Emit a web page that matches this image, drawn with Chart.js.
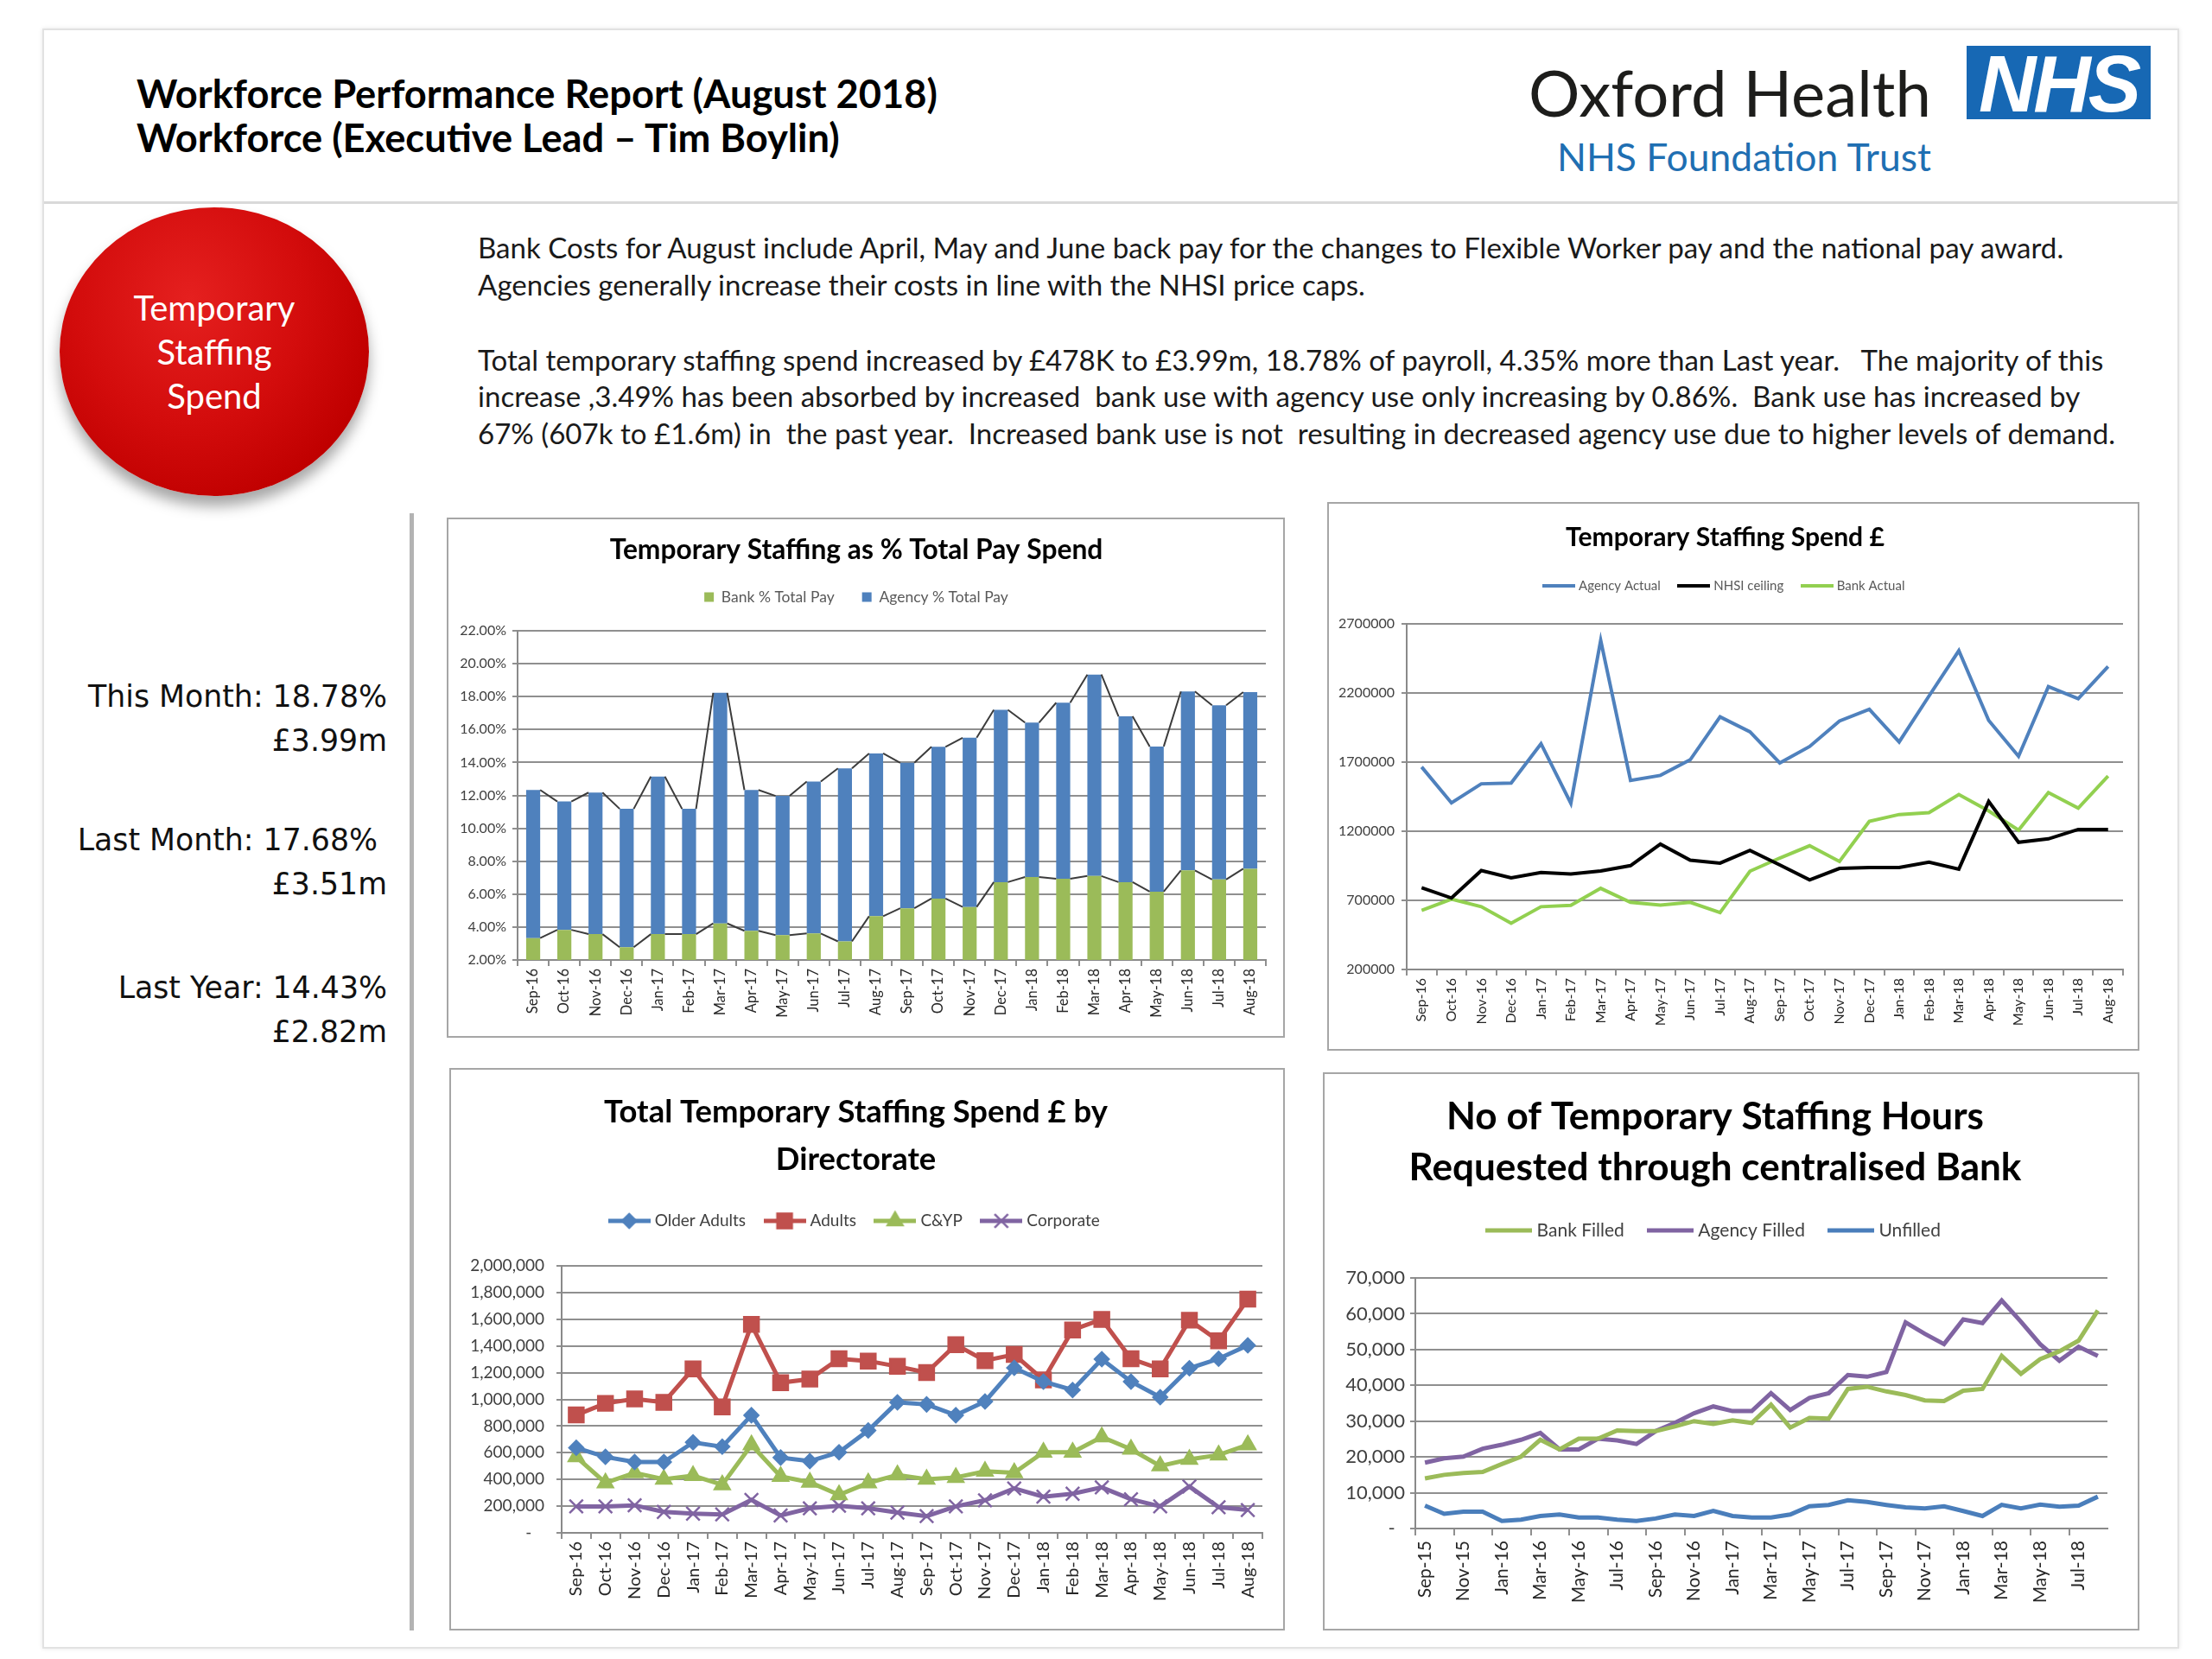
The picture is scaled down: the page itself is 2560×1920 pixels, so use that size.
<!DOCTYPE html>
<html lang="en">
<head>
<meta charset="utf-8">
<title>Workforce Performance Report (August 2018)</title>
<script src="https://cdn.jsdelivr.net/npm/chart.js@4.4.1/dist/chart.umd.min.js"></script>
<style>
  html, body { margin: 0; padding: 0; background: #fff; }
  body { position: relative; width: 2560px; height: 1920px; overflow: hidden; font-family: Lato, "Open Sans", sans-serif; color: #1a1a1a; }
  .t { position: absolute; white-space: pre; line-height: 1.2; }
  #page { position: absolute; left: 49px; top: 33px; width: 2473px; height: 1875px; border: 2px solid #e2e2e2; box-sizing: border-box; box-shadow: 0 0 5px rgba(0,0,0,0.10); }
  #rule { position: absolute; left: 51px; top: 233px; width: 2469px; height: 3px; background: #d9d9d9; }
  #vbar { position: absolute; left: 474px; top: 594px; width: 5px; height: 1293px; background: #b3b3b3; }
  #nhs { position: absolute; left: 2276px; top: 53px; width: 213px; height: 85px; background: #1768b4; color: #fff; font: italic bold 92px "Liberation Sans", Arial, sans-serif; line-height: 88px; text-align: center; letter-spacing: -3px; overflow: hidden; }
  #circle { position: absolute; left: 69px; top: 240px; width: 358px; height: 334px; border-radius: 50%;
    background: radial-gradient(ellipse at 42% 32%, #e5201f 0%, #d30c0c 45%, #c00000 75%, #9a0000 100%);
    box-shadow: 0 12px 16px rgba(0,0,0,0.35); color: #fff; display: flex; flex-direction: column; align-items: center; justify-content: center; }
  #circle div { line-height: 51px; font-size: 39px; white-space: pre; }
  .stat { position: absolute; right: 2112px; font-family: "DejaVu Sans", sans-serif; font-size: 31px; line-height: 1.2; white-space: pre; color: #111; }
  .box { position: absolute; outline: 2px solid #a6a6a6; outline-offset: -2px; background: #fff; }
</style>
</head>
<body>
<div id="page"></div>
<div id="rule"></div>

<div class="t" style="left:158px; font-weight:700; font-size:40px; color:#000" data-cy="108" data-w="927" data-group="head">Workforce Performance Report (August 2018)</div>
<div class="t" style="left:158px; font-weight:700; font-size:40px; color:#000" data-cy="159" data-group="head">Workforce (Executive Lead – Tim Boylin)</div>

<div class="t" style="left:1769px; font-size:68px; color:#1d1d1b" data-cy="107" data-w="466">Oxford Health</div>
<div id="nhs">NHS</div>
<div class="t" style="left:1802px; font-size:42px; color:#1f6fb2" data-cy="181" data-w="433">NHS Foundation Trust</div>

<div id="circle">
  <div data-w="187" data-group="circ">Temporary</div>
  <div data-group="circ">Staffing</div>
  <div data-group="circ">Spend</div>
</div>

<div class="t" style="left:553px; font-size:30px" data-cy="287" data-w="1836" data-group="para">Bank Costs for August include April, May and June back pay for the changes to Flexible Worker pay and the national pay award.</div>
<div class="t" style="left:553px; font-size:30px" data-cy="330" data-group="para">Agencies generally increase their costs in line with the NHSI price caps.</div>
<div class="t" style="left:553px; font-size:30px" data-cy="417" data-group="para">Total temporary staffing spend increased by £478K to £3.99m, 18.78% of payroll, 4.35% more than Last year.   The majority of this</div>
<div class="t" style="left:553px; font-size:30px" data-cy="459" data-group="para">increase ,3.49% has been absorbed by increased  bank use with agency use only increasing by 0.86%.  Bank use has increased by</div>
<div class="t" style="left:553px; font-size:30px" data-cy="502" data-group="para">67% (607k to £1.6m) in  the past year.  Increased bank use is not  resulting in decreased agency use due to higher levels of demand.</div>

<div class="stat" data-cy="807" data-w="346" data-group="stat">This Month: 18.78%</div>
<div class="stat" data-cy="858" data-group="stat">£3.99m</div>
<div class="stat" data-cy="973" data-group="stat">Last Month: 17.68% </div>
<div class="stat" data-cy="1024" data-group="stat">£3.51m</div>
<div class="stat" data-cy="1144" data-group="stat">Last Year: 14.43%</div>
<div class="stat" data-cy="1195" data-group="stat">£2.82m</div>

<div id="vbar"></div>

<div class="box" style="left:517px; top:599px; width:970px; height:602px"><canvas id="payPctChart"></canvas></div>
<div class="box" style="left:1536px; top:581px; width:940px; height:635px"><canvas id="spendChart"></canvas></div>
<div class="box" style="left:520px; top:1236px; width:967px; height:651px"><canvas id="directorateChart"></canvas></div>
<div class="box" style="left:1531px; top:1241px; width:945px; height:646px"><canvas id="hoursChart"></canvas></div>

<script>
// categories
const months = ['Sep-16', 'Oct-16', 'Nov-16', 'Dec-16', 'Jan-17', 'Feb-17', 'Mar-17', 'Apr-17', 'May-17', 'Jun-17', 'Jul-17', 'Aug-17',
    'Sep-17', 'Oct-17', 'Nov-17', 'Dec-17', 'Jan-18', 'Feb-18', 'Mar-18', 'Apr-18', 'May-18', 'Jun-18', 'Jul-18', 'Aug-18'];
const hourMonths = ['Sep-15', 'Oct-15', 'Nov-15', 'Dec-15', 'Jan-16', 'Feb-16', 'Mar-16', 'Apr-16', 'May-16', 'Jun-16', 'Jul-16', 'Aug-16',
    'Sep-16', 'Oct-16', 'Nov-16', 'Dec-16', 'Jan-17', 'Feb-17', 'Mar-17', 'Apr-17', 'May-17', 'Jun-17', 'Jul-17', 'Aug-17',
    'Sep-17', 'Oct-17', 'Nov-17', 'Dec-17', 'Jan-18', 'Feb-18', 'Mar-18', 'Apr-18', 'May-18', 'Jun-18', 'Jul-18', 'Aug-18'];

// tick labels
const pctTicks = [2, 4, 6, 8, 10, 12, 14, 16, 18, 20, 22];
const spendTicks = [200000, 700000, 1200000, 1700000, 2200000, 2700000];
const directorateTicks = [0, 200000, 400000, 600000, 800000, 1000000, 1200000, 1400000, 1600000, 1800000, 2000000];
const hoursTicks = [0, 10000, 20000, 30000, 40000, 50000, 60000, 70000];

// temporary staffing as % of total pay
const bankPct = [3.33, 3.83, 3.57, 2.77, 3.57, 3.57, 4.22, 3.77, 3.51, 3.61, 3.13, 4.66,
    5.14, 5.73, 5.22, 6.73, 7.04, 6.93, 7.10, 6.73, 6.15, 7.44, 6.89, 7.54];
const agencyPct = [9.00, 7.80, 8.60, 8.41, 9.57, 7.61, 14.01, 8.56, 8.46, 9.23, 10.51, 9.89,
    8.84, 9.22, 10.28, 10.47, 9.38, 10.70, 12.24, 10.07, 8.82, 10.87, 10.58, 10.73];

// temporary staffing spend £
const agencyActual = [1665000, 1405000, 1543000, 1548000, 1833000, 1402000, 2581000, 1568000, 1604000, 1717000, 2027000, 1919000,
    1694000, 1813000, 1997000, 2082000, 1846000, 2178000, 2506000, 2002000, 1742000, 2246000, 2158000, 2392000];
const nhsiCeiling = [792000, 717000, 916000, 863000, 901000, 890000, 913000, 951000, 1107000, 991000, 969000, 1062000,
    956000, 848000, 931000, 938000, 938000, 976000, 926000, 1415000, 1120000, 1145000, 1213000, 1213000];
const bankActual = [628000, 709000, 654000, 535000, 654000, 664000, 787000, 686000, 666000, 686000, 611000, 911000,
    1006000, 1095000, 981000, 1271000, 1321000, 1334000, 1465000, 1347000, 1208000, 1480000, 1367000, 1599000];

// spend by directorate
const olderAdults = [637000, 569000, 531000, 531000, 678000, 645000, 881000, 564000, 537000, 604000, 767000, 978000,
    962000, 881000, 984000, 1236000, 1133000, 1070000, 1301000, 1133000, 1016000, 1233000, 1304000, 1404000];
const adults = [883000, 970000, 1003000, 978000, 1228000, 943000, 1561000, 1125000, 1152000, 1304000, 1287000, 1247000,
    1201000, 1409000, 1290000, 1336000, 1146000, 1520000, 1599000, 1304000, 1228000, 1593000, 1439000, 1751000];
const cyp = [569000, 374000, 450000, 401000, 428000, 360000, 659000, 423000, 379000, 285000, 374000, 434000,
    401000, 415000, 461000, 450000, 604000, 604000, 718000, 626000, 501000, 550000, 583000, 659000];
const corporate = [198000, 198000, 206000, 157000, 144000, 138000, 247000, 130000, 184000, 203000, 184000, 152000,
    125000, 198000, 244000, 333000, 271000, 293000, 341000, 252000, 198000, 347000, 192000, 171000];

// hours requested through the bank
const bankFilled = [14000, 15000, 15500, 15800, 18000, 20100, 24800, 22100, 25100, 25100, 27400, 27200,
    27200, 28500, 30000, 29200, 30200, 29500, 34600, 28200, 30900, 30700, 39000, 39600,
    38300, 37300, 35800, 35600, 38500, 39000, 48200, 43200, 47300, 49500, 52500, 60900];
const agencyFilled = [18400, 19600, 20100, 22300, 23400, 24800, 26700, 22100, 22100, 25100, 24600, 23600,
    27200, 29500, 32200, 34100, 32800, 32800, 37800, 33100, 36500, 37800, 42900, 42400,
    43700, 57600, 54400, 51500, 58400, 57400, 63700, 57800, 51500, 46900, 50800, 48200];
const unfilled = [6400, 4100, 4700, 4700, 2100, 2500, 3500, 3900, 3100, 3100, 2500, 2100,
    2800, 3900, 3500, 4900, 3500, 3100, 3100, 3900, 6200, 6600, 7900, 7400,
    6600, 5900, 5600, 6200, 4900, 3500, 6600, 5600, 6700, 6100, 6400, 8900];

const GRID = '#8f8f8f';
const AXIS = '#8a8a8a';

// size the html text so it spans the same width as the report
function fitText() {
    document.querySelectorAll('[data-w]').forEach(el => {
        const w = el.getBoundingClientRect().width;
        const fs = parseFloat(getComputedStyle(el).fontSize);
        const size = fs * (+el.dataset.w) / w;
        const group = el.dataset.group;
        const els = group ? document.querySelectorAll('[data-group="' + group + '"]') : [el];
        els.forEach(g => { g.style.fontSize = size + 'px'; });
    });
    document.querySelectorAll('[data-cy]').forEach(el => {
        const fs = parseFloat(getComputedStyle(el).fontSize);
        el.style.top = (+el.dataset.cy - 0.6 * fs) + 'px';
    });
}

function titleSize(text, target) {
    const ctx = document.createElement('canvas').getContext('2d');
    ctx.font = 'bold 100px Lato';
    return 100 * target / ctx.measureText(text).width;
}

// title / legend / plot top placement
function vLayout(T, Lc, P, F, lh, n, fsL, lp) {
    const LH = F * lh;
    const padTop = T - LH / 2;
    const legendTop = Lc - lp - fsL / 2;
    return {
        padTop: padTop,
        padBottom: legendTop - (padTop + n * LH),
        gap: P - (legendTop + fsL + lp + 10)
    };
}

function lineIcon(color, w, lw, style, r) {
    const c = document.createElement('canvas');
    const h = style ? Math.ceil(r * 2 + 6) : lw + 2;
    c.width = w;
    c.height = h;
    const ctx = c.getContext('2d');
    ctx.strokeStyle = color;
    ctx.lineWidth = lw;
    ctx.beginPath();
    ctx.moveTo(0, h / 2);
    ctx.lineTo(w, h / 2);
    ctx.stroke();
    if (style) {
        ctx.fillStyle = color;
        ctx.lineWidth = 2.5;
        Chart.helpers.drawPoint(ctx, { pointStyle: style, radius: r, rotation: 0, borderWidth: 2.5 }, w / 2, h / 2);
    }
    return c;
}

const legendGap = {
    id: 'legendGap',
    beforeInit(chart, args, opts) {
        const fit = chart.legend.fit;
        chart.legend.fit = function () {
            fit.call(this);
            this.height += opts.gap || 0;
        };
    }
};

// Excel style series lines between stacked columns
const seriesLines = {
    id: 'seriesLines',
    afterDatasetsDraw(chart) {
        const ctx = chart.ctx;
        ctx.save();
        ctx.strokeStyle = '#3c3c3c';
        ctx.lineWidth = 2;
        chart.data.datasets.forEach((ds, d) => {
            const bars = chart.getDatasetMeta(d).data;
            ctx.beginPath();
            for (let i = 0; i < bars.length - 1; i++) {
                const a = bars[i], b = bars[i + 1];
                ctx.moveTo(a.x + a.width / 2, a.y);
                ctx.lineTo(b.x - b.width / 2, b.y);
            }
            ctx.stroke();
        });
        ctx.restore();
    }
};

function categoryAxis(height, size, extra) {
    return Object.assign({
        offset: true,
        grid: { offset: true, drawOnChartArea: false, drawTicks: true, tickLength: 7, color: GRID, lineWidth: 2 },
        border: { display: true, color: AXIS, width: 2 },
        ticks: { autoSkip: false, minRotation: 90, maxRotation: 90, padding: 3, color: '#262626', font: { size: size } },
        afterFit: s => { s.height = height; }
    }, extra || {});
}

function valueAxis(tickArr, width, size, fmt, padding) {
    return {
        min: tickArr[0],
        max: tickArr[tickArr.length - 1],
        ticks: { stepSize: tickArr[1] - tickArr[0], padding: padding, color: '#404040', font: { size: size }, callback: fmt },
        grid: { color: GRID, lineWidth: 2, tickLength: 6 },
        border: { display: true, color: AXIS, width: 2 },
        afterFit: s => { s.width = width; }
    };
}

function initializePayPctChart() {
    const title = 'Temporary Staffing as % Total Pay Spend';
    const F = titleSize(title, 571);
    const L = vLayout(38, 92, 131, F, 1.2, 1, 17.5, 32);
    new Chart(document.getElementById('payPctChart'), {
        type: 'bar',
        data: {
            labels: months,
            datasets: [
                { label: 'Bank % Total Pay', data: bankPct, backgroundColor: '#9bbb59', borderWidth: 0, barPercentage: 0.45, categoryPercentage: 1 },
                { label: 'Agency % Total Pay', data: agencyPct, backgroundColor: '#4f81bd', borderWidth: 0, barPercentage: 0.45, categoryPercentage: 1 }
            ]
        },
        options: {
            responsive: true,
            maintainAspectRatio: false,
            animation: false,
            layout: { padding: { top: 0, left: 0, right: 22, bottom: 0 } },
            plugins: {
                title: { display: true, text: title, color: '#000', font: { size: F, weight: 'bold' }, padding: { top: L.padTop, bottom: L.padBottom } },
                legend: { labels: { boxWidth: 11, boxHeight: 11, padding: 32, color: '#595959', font: { size: 17.5 } } },
                legendGap: { gap: L.gap },
                tooltip: { enabled: false }
            },
            scales: {
                x: categoryAxis(90, 16.5, { stacked: true }),
                y: Object.assign(valueAxis(pctTicks, 82, 16, v => v.toFixed(2) + '%', 7), { stacked: true })
            }
        },
        plugins: [legendGap, seriesLines]
    });
}

function initializeSpendChart() {
    const title = 'Temporary Staffing Spend £';
    const F = titleSize(title, 369);
    const L = vLayout(41, 97, 141, F, 1.2, 1, 15, 23);
    const colors = ['#4f81bd', '#000000', '#92d050'];
    const icons = colors.map(c => lineIcon(c, 38, 4));
    new Chart(document.getElementById('spendChart'), {
        type: 'line',
        data: {
            labels: months,
            datasets: [
                { label: 'Agency Actual', data: agencyActual, borderColor: colors[0], backgroundColor: colors[0], borderWidth: 4, pointRadius: 0, tension: 0 },
                { label: 'NHSI ceiling', data: nhsiCeiling, borderColor: colors[1], backgroundColor: colors[1], borderWidth: 4, pointRadius: 0, tension: 0 },
                { label: 'Bank Actual', data: bankActual, borderColor: colors[2], backgroundColor: colors[2], borderWidth: 4, pointRadius: 0, tension: 0 }
            ]
        },
        options: {
            responsive: true,
            maintainAspectRatio: false,
            animation: false,
            layout: { padding: { top: 0, left: 0, right: 19, bottom: 0 } },
            plugins: {
                title: { display: true, text: title, color: '#000', font: { size: F, weight: 'bold' }, padding: { top: L.padTop, bottom: L.padBottom } },
                legend: {
                    labels: {
                        usePointStyle: true, pointStyleWidth: 38 - 7, padding: 23, color: '#595959', font: { size: 15 },
                        generateLabels(chart) {
                            const items = Chart.defaults.plugins.legend.labels.generateLabels(chart);
                            items.forEach((it, i) => { it.pointStyle = icons[i]; });
                            return items;
                        }
                    }
                },
                legendGap: { gap: L.gap },
                tooltip: { enabled: false }
            },
            scales: {
                x: categoryAxis(94, 16),
                y: valueAxis(spendTicks, 92, 16, v => String(v), 8)
            }
        },
        plugins: [legendGap]
    });
}

function initializeDirectorateChart() {
    const title = ['Total Temporary Staffing Spend £ by', 'Directorate'];
    const F = titleSize(title[0], 583);
    const L = vLayout(51, 177, 229, F, 55 / F, 2, 19, 25);
    const series = [
        { label: 'Older Adults', data: olderAdults, color: '#4f81bd', style: 'rectRot', r: 8 },
        { label: 'Adults', data: adults, color: '#c0504d', style: 'rect', r: 12 },
        { label: 'C&YP', data: cyp, color: '#9bbb59', style: 'triangle', r: 10 },
        { label: 'Corporate', data: corporate, color: '#8064a2', style: 'crossRot', r: 11 }
    ];
    const icons = series.map(s => lineIcon(s.color, 49, 5, s.style, s.r));
    new Chart(document.getElementById('directorateChart'), {
        type: 'line',
        data: {
            labels: months,
            datasets: series.map(s => ({
                label: s.label, data: s.data, borderColor: s.color, backgroundColor: s.color, borderWidth: 5, tension: 0,
                pointStyle: s.style, pointRadius: s.r, pointBackgroundColor: s.color, pointBorderColor: s.color, pointBorderWidth: 2.5
            }))
        },
        options: {
            responsive: true,
            maintainAspectRatio: false,
            animation: false,
            layout: { padding: { top: 0, left: 0, right: 26, bottom: 0 } },
            plugins: {
                title: { display: true, text: title, color: '#000', font: { size: F, weight: 'bold', lineHeight: 55 / F }, padding: { top: L.padTop, bottom: L.padBottom } },
                legend: {
                    labels: {
                        usePointStyle: true, pointStyleWidth: 49 - 9, padding: 25, color: '#404040', font: { size: 19 },
                        generateLabels(chart) {
                            const items = Chart.defaults.plugins.legend.labels.generateLabels(chart);
                            items.forEach((it, i) => { it.pointStyle = icons[i]; });
                            return items;
                        }
                    }
                },
                legendGap: { gap: L.gap },
                tooltip: { enabled: false }
            },
            scales: {
                x: categoryAxis(113, 20),
                y: valueAxis(directorateTicks, 130, 19, v => v === 0 ? '-   ' : v.toLocaleString('en-GB'), 14)
            }
        },
        plugins: [legendGap]
    });
}

function initializeHoursChart() {
    const title = ['No of Temporary Staffing Hours', 'Requested through centralised Bank'];
    const F = titleSize(title[1], 709);
    const L = vLayout(52, 183, 238, F, 59 / F, 2, 21, 31);
    const colors = ['#9bbb59', '#8064a2', '#4a7ebb'];
    const icons = colors.map(c => lineIcon(c, 54, 5));
    new Chart(document.getElementById('hoursChart'), {
        type: 'line',
        data: {
            labels: hourMonths,
            datasets: [
                { label: 'Bank Filled', data: bankFilled, borderColor: colors[0], backgroundColor: colors[0], borderWidth: 5, pointRadius: 0, tension: 0 },
                { label: 'Agency Filled', data: agencyFilled, borderColor: colors[1], backgroundColor: colors[1], borderWidth: 5, pointRadius: 0, tension: 0 },
                { label: 'Unfilled', data: unfilled, borderColor: colors[2], backgroundColor: colors[2], borderWidth: 5, pointRadius: 0, tension: 0 }
            ]
        },
        options: {
            responsive: true,
            maintainAspectRatio: false,
            animation: false,
            layout: { padding: { top: 0, left: 0, right: 37, bottom: 0 } },
            plugins: {
                title: { display: true, text: title, color: '#000', font: { size: F, weight: 'bold', lineHeight: 59 / F }, padding: { top: L.padTop, bottom: L.padBottom } },
                legend: {
                    labels: {
                        usePointStyle: true, pointStyleWidth: 54 - 10, padding: 31, color: '#404040', font: { size: 21 },
                        generateLabels(chart) {
                            const items = Chart.defaults.plugins.legend.labels.generateLabels(chart);
                            items.forEach((it, i) => { it.pointStyle = icons[i]; });
                            return items;
                        }
                    }
                },
                legendGap: { gap: L.gap },
                tooltip: { enabled: false }
            },
            scales: {
                x: categoryAxis(118, 21, {
                    grid: { offset: true, drawOnChartArea: false, drawTicks: true, tickLength: 8, lineWidth: 2,
                        color: ctx => ctx.index % 2 === 0 ? GRID : 'rgba(0,0,0,0)' },
                    ticks: { autoSkip: false, minRotation: 90, maxRotation: 90, padding: 6, color: '#262626', font: { size: 21 },
                        callback: (v, i) => i % 2 === 0 ? hourMonths[i] : '' }
                }),
                y: valueAxis(hoursTicks, 107, 22, v => v === 0 ? '-  ' : v.toLocaleString('en-GB'), 6)
            }
        },
        plugins: [legendGap]
    });
}

document.addEventListener('DOMContentLoaded', () => {
    Chart.defaults.font.family = 'Lato';
    fitText();
    initializePayPctChart();
    initializeSpendChart();
    initializeDirectorateChart();
    initializeHoursChart();
});
</script>
</body>
</html>
